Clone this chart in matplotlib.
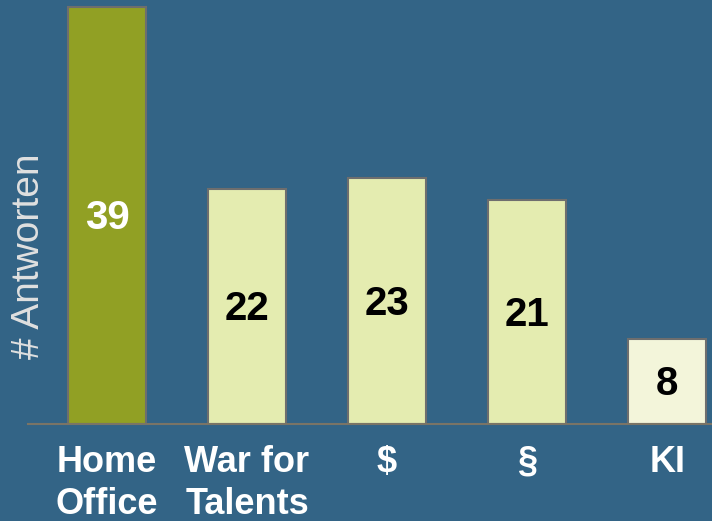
import matplotlib
matplotlib.use("Agg")
from matplotlib import pyplot as plt

categories = ["Home\nOffice", "War for\nTalents", "$", "§", "KI"]
answers = [39, 22, 23, 21, 8]
bar_colors = ["#91a024", "#e4ecb0", "#e4ecb0", "#e4ecb0", "#f3f5da"]
label_colors = ["white", "black", "black", "black", "black"]

bg = "#336486"

fig = plt.figure(figsize=(7.12, 5.21), dpi=100, facecolor=bg)
ax = fig.add_axes([28 / 712, 97 / 521, 1 - 28 / 712, 424 / 521])
ax.set_facecolor(bg)

xs = list(range(len(categories)))
bars = ax.bar(xs, answers, width=0.557, color=bar_colors,
              edgecolor="#6e6e6e", linewidth=1.5, zorder=2)

for b, v, c in zip(bars, answers, label_colors):
    ax.text(b.get_x() + b.get_width() / 2, v / 2 - 0.25, str(v), ha="center", va="center",
            fontsize=29, fontweight="bold", color=c, family="Liberation Sans", zorder=3)

ax.set_xlim(-0.564, 4.32)
ax.set_ylim(0, 39.7)
ax.set_xticks(xs)
ax.set_xticklabels(categories, fontsize=26, fontweight="bold", color="white",
                   family="Liberation Sans", linespacing=1.28, va="top")
ax.tick_params(axis="x", length=0, pad=15)
ax.set_yticks([])
for s in ["left", "right", "top"]:
    ax.spines[s].set_visible(False)
ax.spines["bottom"].set_color("#7a7466")
ax.spines["bottom"].set_linewidth(1.5)

fig.text(29 / 712, 1 - 256 / 521, "# Antworten", rotation=90, ha="center", va="center",
         fontsize=28, color="#e0e0e0", family="Liberation Sans")

fig.savefig("out.png", dpi=100, facecolor=bg)
